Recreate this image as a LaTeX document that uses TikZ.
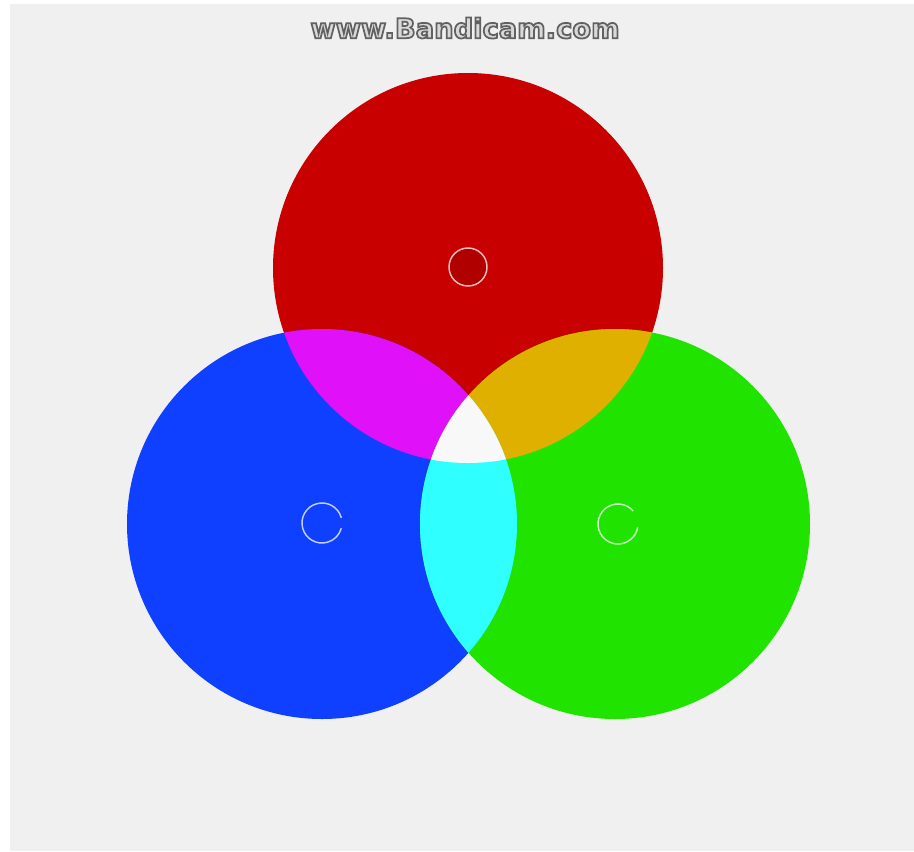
\documentclass[tikz,border=0pt]{standalone}
\usepackage{fontspec}
\newfontfamily\wmfont{DejaVu Sans}
\definecolor{bgray}{HTML}{F0F0F0}
\definecolor{cred}{HTML}{C80000}
\definecolor{cblue}{HTML}{1040FF}
\definecolor{cgreen}{HTML}{20E400}
\definecolor{cmag}{HTML}{E010F8}
\definecolor{corange}{HTML}{E0B000}
\definecolor{ccyan}{HTML}{30FFFF}
\definecolor{cwhite}{HTML}{F8F8F8}
\newcommand\outlined[1]{\special{pdf:literal direct q 2 Tr 1.3 w 0.38 G}#1\special{pdf:literal direct Q}}
\tikzset{
  ring/.style={draw=white, draw opacity=0.75, line width=1.1pt},
  wmtext/.style={font=\wmfont\bfseries\fontsize{20.5}{21}\selectfont, inner sep=0pt}
}
\begin{document}
\begin{tikzpicture}[x=0.75pt,y=0.75pt]
\useasboundingbox (0,0) rectangle (914,-851);
\fill[white] (0,0) rectangle (914,-851);
\fill[bgray] (10,-4) rectangle (914,-851);
\coordinate (r) at (468,-268);
\coordinate (b) at (322,-524);
\coordinate (g) at (615,-524);
\fill[cred] (r) circle (195);
\fill[cblue] (b) circle (195);
\fill[cgreen] (g) circle (195);
\begin{scope}
\clip (r) circle (195);
\fill[cmag] (b) circle (195);
\fill[corange] (g) circle (195);
\end{scope}
\begin{scope}
\clip (b) circle (195);
\fill[ccyan] (g) circle (195);
\end{scope}
\begin{scope}
\clip (r) circle (195);
\clip (b) circle (195);
\fill[cwhite] (g) circle (195);
\end{scope}
\fill[cred!88!black] (468,-267) circle (19);
\draw[ring] (468,-267) circle (19);
\draw[ring] (322,-523) ++(15:20) arc (15:345:20);
\draw[ring] (618,-524) ++(40:20) arc (40:350:20);
\node[wmtext, text=black!15] (wm) at (465,-28) {\outlined{www.Bandicam.com}};
\end{tikzpicture}
\end{document}
